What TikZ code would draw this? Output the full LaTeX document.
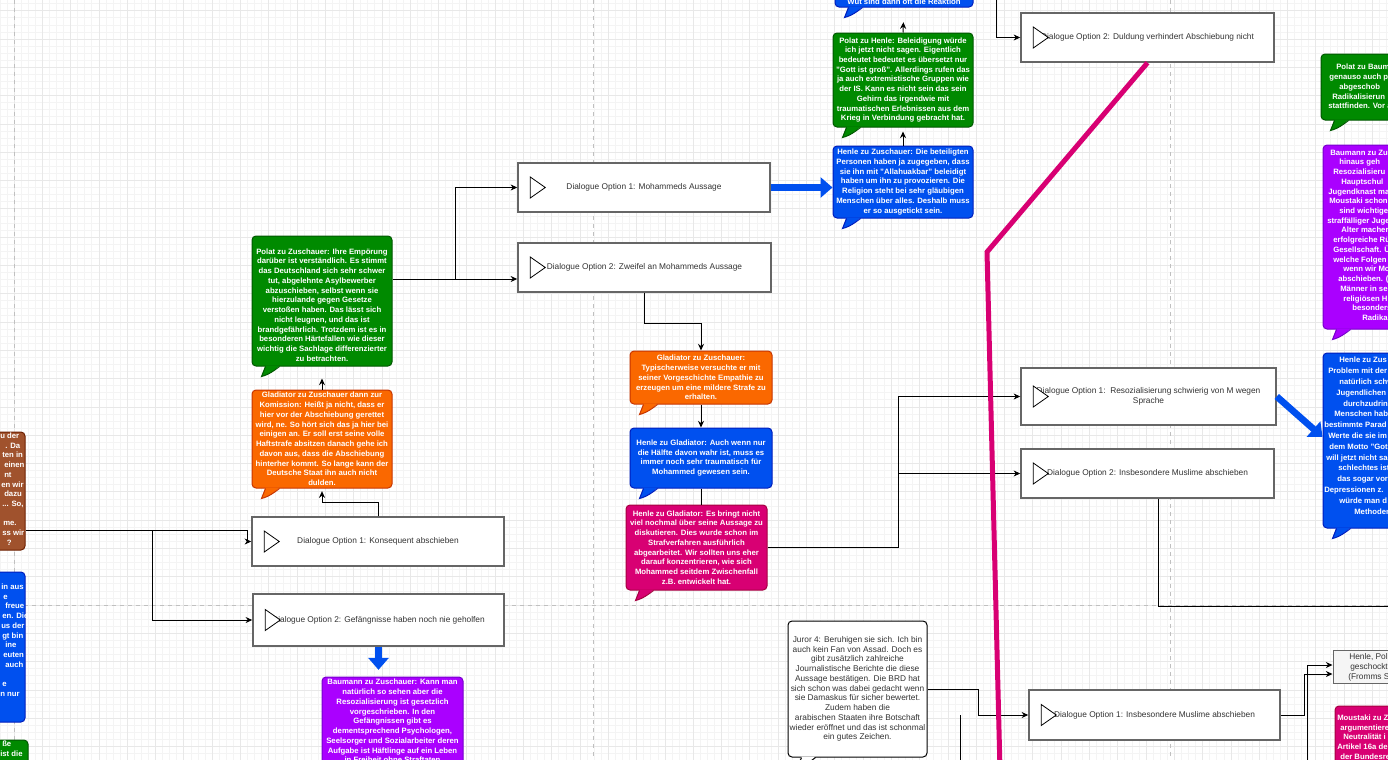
\documentclass[tikz,border=0pt]{standalone}
\usepackage{fontspec}
\setmainfont{Liberation Sans}
\usetikzlibrary{fit,arrows.meta}
\definecolor{gfill}{HTML}{008A00}\definecolor{gline}{HTML}{005700}
\definecolor{ofill}{HTML}{FA6800}\definecolor{oline}{HTML}{C73500}
\definecolor{bfill}{HTML}{0050EF}\definecolor{bline}{HTML}{001DBC}
\definecolor{mfill}{HTML}{D80073}\definecolor{mline}{HTML}{A50040}
\definecolor{pfill}{HTML}{AA00FF}\definecolor{pline}{HTML}{7700CC}
\definecolor{nfill}{HTML}{A0522D}\definecolor{nline}{HTML}{6D1F00}
\definecolor{dgray}{HTML}{666666}\definecolor{dtext}{HTML}{333333}
\definecolor{grayfill}{HTML}{F5F5F5}
\definecolor{gridminor}{HTML}{F4F4F4}\definecolor{gridmajor}{HTML}{E8E8E8}
\definecolor{pageline}{HTML}{C0C0C0}
\newcommand\bubtail[3]{%
  \fill[#2] ([shift={(14,-1)}]#1.south west) -- ([shift={(10,10)}]#1.south west)
    .. controls ([shift={(18,8)}]#1.south west) and ([shift={(24,3)}]#1.south west)
    .. ([shift={(28,-1)}]#1.south west) -- cycle;
  \draw[#3,line width=0.75pt] ([shift={(14,0)}]#1.south west) -- ([shift={(10,10)}]#1.south west)
    .. controls ([shift={(18,8)}]#1.south west) and ([shift={(24,3)}]#1.south west)
    .. ([shift={(28,0)}]#1.south west);}
\newcommand\playicon[1]{%
  \draw[black,fill=white,line width=0.6pt] ([shift={(13,-10.5)}]#1.west) -- ([shift={(13,10.5)}]#1.west) -- ([shift={(28,0)}]#1.west) -- cycle;}
\begin{document}
\begin{tikzpicture}[x=0.75pt,y=-0.75pt,
  txt/.style={font=\fontsize{6.25}{7.3}\selectfont},
  btxt/.style={font=\bfseries\fontsize{5.8}{7.3}\selectfont},
  box/.style={rounded corners=3pt,inner sep=0pt,line width=0.75pt},
  gbub/.style={box,fill=gfill,draw=gline},
  obub/.style={box,fill=ofill,draw=oline},
  bbub/.style={box,fill=bfill,draw=bline},
  mbub/.style={box,fill=mfill,draw=mline},
  pbub/.style={box,fill=pfill,draw=pline},
  nbub/.style={box,fill=nfill,draw=nline},
  jbub/.style={box,fill=white,draw=black},
  wtext/.style={btxt,inner sep=0pt,text=white,align=center},
  jtext/.style={txt,inner sep=0pt,text=dtext,align=center},
  graybox/.style={inner sep=0pt,fill=grayfill,draw=dgray,line width=0.75pt},
  dlg/.style={inner sep=0pt,fill=white,draw=dgray,line width=1.1pt},
  frag/.style={btxt,inner sep=0pt,align=left,anchor=north west,text=white},
  arr/.style={draw=black,line width=0.75pt,-{Stealth[length=5pt,width=4.5pt]}},
  plain/.style={draw=black,line width=0.75pt},
  bigarr/.style={draw=bfill,line width=5pt,-{Triangle[length=9pt,width=15pt]}},
  magline/.style={draw=mfill,line width=3.75pt,line join=miter},
  pagedash/.style={draw=pageline,line width=0.75pt,dash pattern=on 3pt off 3pt}
]
\useasboundingbox (0,0) rectangle (1388,760);
\clip (0,0) rectangle (1388,760);
\fill[white] (0,0) rectangle (1388,760);
% grid
\foreach \i in {0,...,197} {\draw[gridminor,line width=0.5pt] ({-0.15+7.075*\i},0) -- ++(0,760);}
\foreach \i in {0,...,109} {\draw[gridminor,line width=0.5pt] (0,{-3.45+7.075*\i}) -- ++(1388,0);}
\foreach \i in {0,...,50} {\draw[gridmajor,line width=0.6pt] ({-14.3+28.3*\i},0) -- ++(0,760);}
\foreach \i in {0,...,28} {\draw[gridmajor,line width=0.6pt] (0,{-17.6+28.3*\i}) -- ++(1388,0);}
% page borders
\draw[pagedash] (14,0) -- (14,760);
\draw[pagedash] (593,0) -- (593,760);
\draw[pagedash] (1170,0) -- (1170,760);
\draw[pagedash] (0,605) -- (1388,605);

% ---------- left partial boxes
\node[nbub,fit={(-150,432)(25,550)}] (nbox) {};
\node[frag] (nboxT) at (0,432.5) {u der\\\hspace*{3.75pt}. Da\\\hspace*{1.5pt}ten in\\\hspace*{3pt}einen\\\hspace*{3pt}nt\\\hspace*{0.75pt}en wir\\\hspace*{3pt}dazu\\\hspace*{1.5pt}... So,\\\mbox{}\\\hspace*{2.25pt}me.\\\hspace*{1.5pt}ss wir\\\hspace*{5pt}?};
\node[bbub,fit={(-150,572)(25,722)}] (lbox) {};
\node[frag] (lboxT) at (0,583.5) {\hspace*{0.75pt}in aus\\\hspace*{2.25pt}e\\\hspace*{3.75pt}freue\\\hspace*{1.5pt}en. Die\\\hspace*{0.75pt}us der\\\hspace*{1.5pt}gt bin\\\hspace*{3.75pt}ine\\\hspace*{2.25pt}euten\\\hspace*{3.75pt}auch\\\mbox{}\\\hspace*{1.5pt}e\\n nur};
\node[gbub,fit={(-150,740)(28,800)}] (gbox) {};
\node[frag] (gboxT) at (0,740.5) {\hspace*{1.5pt}ße\\ist die};

% ---------- column 1
\node[gbub,fit={(252,236)(392,366)}] (polatZ) {};
\node[wtext] (polatZT) at ([shift={(0,4)}]polatZ.center) {Polat zu Zuschauer: Ihre Empörung\\darüber ist verständlich. Es stimmt\\das Deutschland sich sehr schwer\\tut, abgelehnte Asylbewerber\\abzuschieben, selbst wenn sie\\hierzulande gegen Gesetze\\verstoßen haben. Das lässt sich\\nicht leugnen, und das ist\\brandgefährlich. Trotzdem ist es in\\besonderen Härtefallen wie dieser\\wichtig die Sachlage differenzierter\\zu betrachten.};
\bubtail{polatZ}{gfill}{gline}
\node[obub,fit={(252,390)(392,488)}] (gladZ) {};
\node[wtext] (gladZT) at (gladZ.center) {Gladiator zu Zuschauer dann zur\\Komission: Heißt ja nicht, dass er\\hier vor der Abschiebung gerettet\\wird, ne. So hört sich das ja hier bei\\einigen an. Er soll erst seine volle\\Haftstrafe absitzen danach gehe ich\\davon aus, dass die Abschiebung\\hinterher kommt. So lange kann der\\Deutsche Staat ihn auch nicht\\dulden.};
\bubtail{gladZ}{ofill}{oline}
\node[dlg,fit={(252,517)(504,566)}] (konseq) {};
\node[jtext] (konseqT) at (konseq.center) {Dialogue Option 1: Konsequent abschieben};
\playicon{konseq}
\node[dlg,fit={(253,594)(504,646)}] (gefaeng) {};
\node[jtext] (gefaengT) at (gefaeng.center) {Dialogue Option 2: Gefängnisse haben noch nie geholfen};
\playicon{gefaeng}
\node[pbub,fit={(322,677)(463,820)}] (baumZ) {};
\node[wtext,anchor=north] (baumZT) at (392.5,679) {Baumann zu Zuschauer: Kann man\\natürlich so sehen aber die\\Resozialisierung ist gesetzlich\\vorgeschrieben. In den\\Gefängnissen gibt es\\dementsprechend Psychologen,\\Seelsorger und Sozialarbeiter deren\\Aufgabe ist Häftlinge auf ein Leben\\in Freiheit ohne Straftaten};

% ---------- column 2
\node[dlg,fit={(518,163)(770,212)}] (mohA) {};
\node[jtext] (mohAT) at (mohA.center) {Dialogue Option 1: Mohammeds Aussage};
\playicon{mohA}
\node[dlg,fit={(518,243)(771,292)}] (zweifel) {};
\node[jtext] (zweifelT) at (zweifel.center) {Dialogue Option 2: Zweifel an Mohammeds Aussage};
\playicon{zweifel}
\node[obub,fit={(630,351)(772,404)}] (gladZ2) {};
\node[wtext] (gladZ2T) at (gladZ2.center) {Gladiator zu Zuschauer:\\Typischerweise versuchte er mit\\seiner Vorgeschichte Empathie zu\\erzeugen um eine mildere Strafe zu\\erhalten.};
\bubtail{gladZ2}{ofill}{oline}
\node[bbub,fit={(630,428)(772,488)}] (henleG) {};
\node[wtext] (henleGT) at (henleG.center) {Henle zu Gladiator: Auch wenn nur\\die Hälfte davon wahr ist, muss es\\immer noch sehr traumatisch für\\Mohammed gewesen sein.};
\bubtail{henleG}{bfill}{bline}
\node[mbub,fit={(626,505)(767,590)}] (henleG2) {};
\node[wtext] (henleG2T) at (henleG2.center) {Henle zu Gladiator: Es bringt nicht\\viel nochmal über seine Aussage zu\\diskutieren. Dies wurde schon im\\Strafverfahren ausführlich\\abgearbeitet. Wir sollten uns eher\\darauf konzentrieren, wie sich\\Mohammed seitdem Zwischenfall\\z.B. entwickelt hat.};
\bubtail{henleG2}{mfill}{mline}

% ---------- column 3
\node[bbub,fit={(835,-60)(973,7)}] (topB) {};
\node[wtext] (topBT) at (904,2) {Wut sind dann oft die Reaktion};
\bubtail{topB}{bfill}{bline}
\node[gbub,fit={(833,33)(973,127)}] (polatH) {};
\node[wtext] (polatHT) at (polatH.center) {Polat zu Henle: Beleidigung würde\\ich jetzt nicht sagen. Eigentlich\\bedeutet bedeutet es übersetzt nur\\"Gott ist groß". Allerdings rufen das\\ja auch extremistische Gruppen wie\\der IS. Kann es nicht sein das sein\\Gehirn das irgendwie mit\\traumatischen Erlebnissen aus dem\\Krieg in Verbindung gebracht hat.};
\bubtail{polatH}{gfill}{gline}
\node[bbub,fit={(833,146)(973,218)}] (henleZ) {};
\node[wtext] (henleZT) at (henleZ.center) {Henle zu Zuschauer: Die beteiligten\\Personen haben ja zugegeben, dass\\sie ihn mit "Allahuakbar" beleidigt\\haben um ihn zu provozieren. Die\\Religion steht bei sehr gläubigen\\Menschen über alles. Deshalb muss\\er so ausgetickt sein.};
\bubtail{henleZ}{bfill}{bline}
\node[jbub,fit={(788,621)(927,757)}] (juror) {};
\node[jtext] (jurorT) at (juror.center) {Juror 4: Beruhigen sie sich. Ich bin\\auch kein Fan von Assad. Doch es\\gibt zusätzlich zahlreiche\\Journalistische Berichte die diese\\Aussage bestätigen. Die BRD hat\\sich schon was dabei gedacht wenn\\sie Damaskus für sicher bewertet.\\Zudem haben die\\arabischen Staaten ihre Botschaft\\wieder eröffnet und das ist schonmal\\ein gutes Zeichen.};
\bubtail{juror}{white}{black}

% ---------- column 4
\node[dlg,fit={(1021,13)(1274,62)}] (duldung) {};
\node[jtext] (duldungT) at (duldung.center) {Dialogue Option 2: Duldung verhindert Abschiebung nicht};
\playicon{duldung}
\node[dlg,fit={(1021,368)(1276,425)}] (resoz) {};
\node[jtext] (resozT) at (resoz.center) {Dialogue Option 1:\ \ Resozialisierung schwierig von M wegen\\Sprache};
\playicon{resoz}
\node[dlg,fit={(1021,449)(1274,498)}] (insb2) {};
\node[jtext] (insb2T) at (insb2.center) {Dialogue Option 2: Insbesondere Muslime abschieben};
\playicon{insb2}
\node[dlg,fit={(1029,690)(1280,740)}] (insb1) {};
\node[jtext] (insb1T) at (insb1.center) {Dialogue Option 1: Insbesondere Muslime abschieben};
\playicon{insb1}

% ---------- right partial boxes
\node[gbub,fit={(1321,54)(1500,120)}] (polatR) {};
\bubtail{polatR}{gfill}{gline}
\node[frag] (polatRT) at (1328,64) {\hspace*{6pt}Polat zu Baum\\\hspace*{0.75pt}genauso auch p\\\hspace*{8.25pt}abgeschob\\\hspace*{3pt}Radikalisierun\\stattfinden. Vor a};
\node[pbub,fit={(1323,145)(1500,329)}] (baumR) {};
\bubtail{baumR}{pfill}{pline}
\node[frag] (baumRT) at (1327,149.5) {\hspace*{2.25pt}Baumann zu Zu\\\hspace*{9pt}hinaus geh\\\hspace*{4.5pt}Resozialisieru\\\hspace*{10.5pt}Hauptschul\\\hspace*{0.75pt}Jugendknast ma\\\hspace*{1.5pt}Moustaki schon\\\hspace*{9pt}sind wichtige\\straffälliger Juge\\\hspace*{10.5pt}Alter macher\\\hspace*{4.5pt}erfolgreiche Rü\\\hspace*{4.5pt}Gesellschaft. Ü\\\hspace*{4.5pt}welche Folgen\\\hspace*{12pt}wenn wir Mo\\\hspace*{8.25pt}abschieben. (\\\hspace*{9.75pt}Männer in se\\\hspace*{12pt}religiösen Hi\\\hspace*{18.75pt}besonders\\\hspace*{26.25pt}Radika};
\node[bbub,fit={(1323,353)(1500,528)}] (henleR) {};
\bubtail{henleR}{bfill}{bline}
\node[frag,font=\bfseries\fontsize{5.8}{8.1}\selectfont] (henleRT) at (1324,357) {\hspace*{11.25pt}Henle zu Zus\\\hspace*{3pt}Problem mit der\\\hspace*{11.25pt}natürlich schw\\\hspace*{9pt}Jugendlichen\\\hspace*{14.25pt}durchzudring\\\hspace*{7.5pt}Menschen hab\\bestimmte Parad\\\hspace*{3pt}Werte die sie im\\\hspace*{3.75pt}dem Motto "Got\\\hspace*{1.5pt}will jetzt nicht sag\\\hspace*{10.5pt}schlechtes ist, i\\\hspace*{9.75pt}das sogar vor\\Depressionen z.\\\hspace*{11.25pt}würde man d\\\hspace*{22.5pt}Methoden};
\node[graybox,fit={(1333,650)(1500,683)}] (henleGr) {};
\node[frag,txt,text=dtext] (henleGrT) at (1348,653.5) {\hspace*{0.75pt}Henle, Pol\\\hspace*{1.5pt}geschockt\\(Fromms S};
\node[mbub,fit={(1335,706)(1500,820)}] (moust) {};
\node[frag] (moustT) at (1337,714.5) {Moustaki zu Z\\\hspace*{2.25pt}argumentiere\\\hspace*{4.5pt}Neutralität i\\Artikel 16a de\\\hspace*{2.25pt}der Bundesre};

% ---------- connectors
\coordinate (br1) at (152,530);
\draw[arr] (nbox.east |- br1) -| ([xshift=-3pt]konseq.west) -- (konseq.west);
\draw[arr] (br1) |- (gefaeng.west);
\draw[arr,shorten >=2pt] (konseq.north) -- ++(0,-14) -| (gladZ.south);
\draw[arr,shorten >=9pt] (gladZ.north) -- (polatZ.south);
\coordinate (jp) at (455,279);
\draw[arr] (polatZ.east |- jp) -- (jp) |- (mohA.west);
\draw[arr] (jp) -- (zweifel.west |- jp);
\draw[arr] (zweifel.south) -- ++(0,31) -| (gladZ2.north);
\draw[arr] (gladZ2.south) -- (henleG.north);
\draw[plain] (henleG.south) -- (henleG.south |- henleG2.north);
\coordinate (j1) at (898,0);
\draw[arr] (henleG2.east) -| (j1 |- resoz.west) -- (resoz.west);
\draw[arr] (j1 |- insb2.west) -- (insb2.west);
\draw[arr,shorten >=3pt] (henleZ.north) -- (polatH.south);
\draw[arr,shorten >=11pt] (polatH.north) -- (topB.south);
\coordinate (topin) at (996,-5);
\draw[arr] (topin) |- (duldung.west);
\coordinate (insbdown) at (1158,0);
\draw[plain] (insbdown |- insb2.south) |- (1400,606);
\coordinate (jj) at (978,0);
\draw[arr] (juror.east) -- (jj |- juror.east) |- (insb1.west);
\coordinate (jb) at (960,770);
\draw[plain] (jb) -- (jb |- insb1.west);
\coordinate (g1) at (1304,0);
\coordinate (g2) at (1307,770);
\draw[arr] (insb1.east) -| (g1 |- 0,674) -- (henleGr.west |- 0,674);
\draw[arr] (g2) |- (henleGr.west |- 0,665);

% ---------- thick arrows and line
\draw[bigarr] (mohA.east) -- (mohA.east -| henleZ.west);
\draw[bigarr] (resoz.east) -- (henleR.west |- 0,437);
\draw[bigarr,shorten >=5pt] (gefaeng.south) -- (gefaeng.south |- baumZ.north);
\coordinate (mbend) at (987,252);
\coordinate (mend) at (1000,770);
\draw[magline] (duldung.south) -- (mbend) -- (mend);
\end{tikzpicture}
\end{document}
